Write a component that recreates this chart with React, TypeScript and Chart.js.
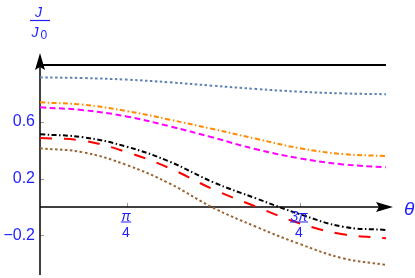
import React, { useEffect, useRef } from "react";
import { Chart, registerables } from "chart.js";
Chart.register(...registerables);

// θ in units of π
const thetaOverPi = [0, 0.125, 0.25, 0.375, 0.5, 0.625, 0.75, 0.875, 1];
const topLine = [1, 1, 1, 1, 1, 1, 1, 1, 1];
const blueDotted = [0.913, 0.908, 0.897, 0.878, 0.854, 0.831, 0.812, 0.8, 0.794];
const orangeDotDash = [0.737, 0.72, 0.676, 0.615, 0.549, 0.48, 0.414, 0.373, 0.359];
const magentaDashed = [0.702, 0.682, 0.638, 0.568, 0.489, 0.406, 0.343, 0.3, 0.28];
const blackDotDash = [0.512, 0.491, 0.425, 0.319, 0.175, 0.06, -0.05, -0.139, -0.162];
const redLongDash = [0.486, 0.467, 0.387, 0.273, 0.125, 0.002, -0.115, -0.192, -0.22];
const brownDotted = [0.413, 0.385, 0.296, 0.165, -0.005, -0.14, -0.26, -0.361, -0.408];

const yTickValues = [-0.2, 0.2, 0.6];
const yTickLabels = ["\u22120.2", "0.2", "0.6"];
const xTickValues = [0.25, 0.75];
const xTickNumerators = ["\u03C0", "3\u03C0"];
const xTickDenominator = "4";

const BLUE_TEXT = "#1e1eff";

const pts = (ys: number[]) => ys.map((y, i) => ({ x: thetaOverPi[i], y }));

const axesPlugin = {
  id: "mmaAxes",
  beforeDatasetsDraw(chart: any) {
    const { ctx, chartArea, scales } = chart;
    const xs = scales.x;
    const ys = scales.y;
    const x0 = xs.getPixelForValue(0);
    const y0 = ys.getPixelForValue(0);
    ctx.save();
    ctx.strokeStyle = "#999";
    ctx.lineWidth = 1;
    xTickValues.forEach((v) => {
      const px = Math.round(xs.getPixelForValue(v)) + 0.5;
      ctx.beginPath();
      ctx.moveTo(px, y0);
      ctx.lineTo(px, y0 - 4);
      ctx.stroke();
    });
    yTickValues.forEach((v) => {
      const py = Math.round(ys.getPixelForValue(v)) + 0.5;
      ctx.beginPath();
      ctx.moveTo(x0, py);
      ctx.lineTo(x0 + 4, py);
      ctx.stroke();
    });
    ctx.strokeStyle = "#000";
    ctx.fillStyle = "#000";
    ctx.lineWidth = 1.5;
    ctx.beginPath();
    ctx.moveTo(x0, y0);
    ctx.lineTo(chartArea.right - 10, y0);
    ctx.stroke();
    ctx.beginPath();
    ctx.moveTo(x0, chartArea.bottom);
    ctx.lineTo(x0, chartArea.top + 10);
    ctx.stroke();
    ctx.beginPath();
    ctx.moveTo(chartArea.right, y0);
    ctx.lineTo(chartArea.right - 17, y0 - 5);
    ctx.lineTo(chartArea.right - 14, y0);
    ctx.lineTo(chartArea.right - 17, y0 + 5);
    ctx.closePath();
    ctx.fill();
    ctx.beginPath();
    ctx.moveTo(x0, chartArea.top);
    ctx.lineTo(x0 - 5, chartArea.top + 17);
    ctx.lineTo(x0, chartArea.top + 14);
    ctx.lineTo(x0 + 5, chartArea.top + 17);
    ctx.closePath();
    ctx.fill();
    ctx.restore();
  },
  afterDatasetsDraw(chart: any) {
    const { ctx, chartArea, scales } = chart;
    const xs = scales.x;
    const ys = scales.y;
    const x0 = xs.getPixelForValue(0);
    const y0 = ys.getPixelForValue(0);
    ctx.save();
    ctx.fillStyle = BLUE_TEXT;
    ctx.strokeStyle = BLUE_TEXT;
    ctx.textAlign = "center";
    ctx.textBaseline = "alphabetic";
    xTickValues.forEach((v, i) => {
      const px = xs.getPixelForValue(v) - 0.5;
      ctx.font = 'italic 14px "Liberation Sans"';
      ctx.fillText(xTickNumerators[i], px, y0 + 14);
      const w = ctx.measureText(xTickNumerators[i]).width + 1;
      ctx.lineWidth = 1;
      ctx.beginPath();
      ctx.moveTo(px - w / 2, y0 + 15);
      ctx.lineTo(px + w / 2, y0 + 15);
      ctx.stroke();
      ctx.font = '14px "Liberation Sans"';
      ctx.fillText(xTickDenominator, px, y0 + 30.5);
    });
    ctx.textAlign = "left";
    ctx.font = 'italic 19px "Liberation Sans"';
    ctx.fillText("\u03B8", chartArea.right + 11, y0 + 8);
    // J / J0 axis label
    ctx.textAlign = "center";
    ctx.font = 'italic 14px "Liberation Sans"';
    ctx.fillText("J", x0 - 1.5, 17);
    ctx.lineWidth = 1.2;
    ctx.beginPath();
    ctx.moveTo(x0 - 10, 20.5);
    ctx.lineTo(x0 + 10, 20.5);
    ctx.stroke();
    ctx.textAlign = "left";
    ctx.fillText("J", x0 - 8.5, 37);
    ctx.font = '12px "Liberation Sans"';
    ctx.fillText("0", x0 + 0.5, 38.5);
    ctx.restore();
  },
};

export default function App() {
  const ref = useRef<HTMLCanvasElement | null>(null);
  useEffect(() => {
    if (!ref.current) return;
    const lw = 2;
    const smooth = { pointRadius: 0, tension: 0.4 };
    const chart = new Chart(ref.current, {
      type: "line",
      data: {
        datasets: [
          { data: pts(topLine), borderColor: "#000", borderWidth: 2, pointRadius: 0, tension: 0 },
          { data: pts(blueDotted), borderColor: "#5E81B5", borderWidth: lw, borderDash: [2.5, 2.5], ...smooth },
          { data: pts(orangeDotDash), borderColor: "#FF8C00", borderWidth: lw, borderDash: [5, 2.5, 1.5, 2.5], ...smooth },
          { data: pts(magentaDashed), borderColor: "#FF00FF", borderWidth: lw, borderDash: [6, 3.5], ...smooth },
          { data: pts(blackDotDash), borderColor: "#000", borderWidth: lw, borderDash: [5, 2.5, 1.5, 2.5], ...smooth },
          { data: pts(redLongDash), borderColor: "#FF0000", borderWidth: lw, borderDash: [12, 12], ...smooth },
          { data: pts(brownDotted), borderColor: "#996633", borderWidth: lw, borderDash: [2.5, 2.5], ...smooth },
        ],
      },
      options: {
        animation: false,
        responsive: false,
        devicePixelRatio: 1,
        events: [],
        layout: { padding: { top: 53, right: 22, bottom: 3, left: 0 } },
        plugins: { legend: { display: false }, tooltip: { enabled: false } },
        scales: {
          x: { type: "linear", min: 0, max: 1.0202, display: false },
          y: {
            type: "linear",
            min: -0.479,
            max: 1.0845,
            afterFit: (s: any) => {
              s.width = 40;
              s.paddingTop = 0;
              s.paddingBottom = 0;
            },
            afterBuildTicks: (s: any) => {
              s.ticks = yTickValues.map((v) => ({ value: v }));
            },
            grid: { display: false, drawTicks: false },
            border: { display: false },
            ticks: {
              color: BLUE_TEXT,
              padding: 5,
              font: { size: 16, family: '"Liberation Sans"' },
              callback: (v: any) => {
                const i = yTickValues.findIndex((t) => Math.abs(t - Number(v)) < 1e-6);
                return i >= 0 ? yTickLabels[i] : "";
              },
            },
          },
        },
      },
      plugins: [axesPlugin],
    } as any);
    return () => chart.destroy();
  }, []);
  return (
    <div style={{ position: "absolute", left: 0, top: 0, width: 415, height: 278, background: "#fff" }}>
      <canvas ref={ref} width={415} height={278} style={{ width: 415, height: 278, display: "block" }} />
    </div>
  );
}
